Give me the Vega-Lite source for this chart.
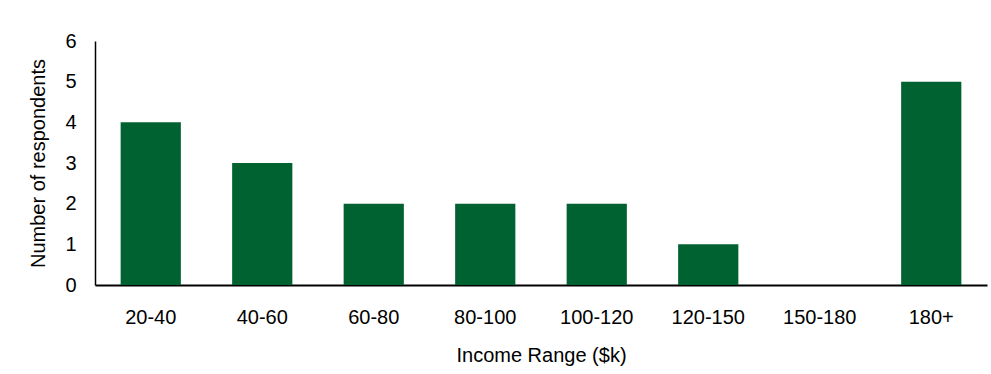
{
  "$schema": "https://vega.github.io/schema/vega-lite/v6.json",
  "width": 892,
  "height": 244,
  "autosize": "none",
  "padding": {"left": 95, "top": 41, "right": 4, "bottom": 89},
  "background": "white",
  "data": {"values": [
    {"range": "20-40", "count": 4},
    {"range": "40-60", "count": 3},
    {"range": "60-80", "count": 2},
    {"range": "80-100", "count": 2},
    {"range": "100-120", "count": 2},
    {"range": "120-150", "count": 1},
    {"range": "150-180", "count": 0},
    {"range": "180+", "count": 5}
  ]},
  "mark": {"type": "bar", "color": "#006230"},
  "encoding": {
    "x": {
      "field": "range", "type": "nominal", "sort": null,
      "scale": {"paddingInner": 0.46, "paddingOuter": 0.23},
      "axis": {"title": "Income Range ($k)", "labelAngle": 0, "ticks": false, "labelPadding": 22, "titlePadding": 18, "domainColor": "#000", "domainWidth": 2}
    },
    "y": {
      "field": "count", "type": "quantitative",
      "scale": {"domain": [0, 6], "nice": false},
      "axis": {"title": "Number of respondents", "values": [0,1,2,3,4,5,6], "grid": false, "ticks": false, "labelPadding": 19, "titlePadding": 16, "domainColor": "#000", "domainWidth": 1.5}
    }
  },
  "config": {
    "font": "Liberation Sans",
    "view": {"stroke": null},
    "axis": {"labelFont": "Liberation Sans", "titleFont": "Liberation Sans", "labelFontSize": 20, "titleFontSize": 20, "titleFontWeight": "normal", "labelColor": "#000", "titleColor": "#000"}
  }
}
